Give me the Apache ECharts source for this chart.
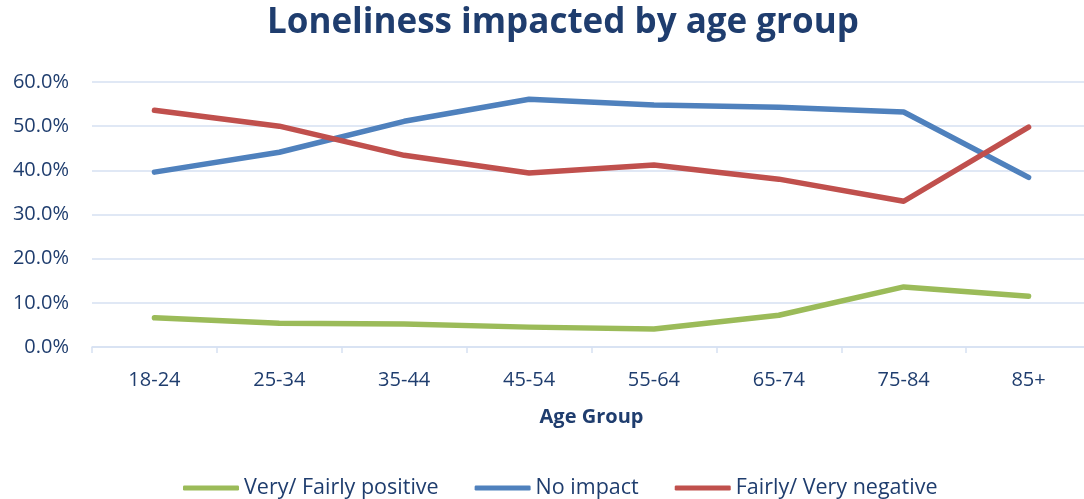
<!DOCTYPE html>
<html>
<head>
<meta charset="utf-8">
<script src="https://cdn.jsdelivr.net/npm/echarts@6/dist/echarts.min.js"></script>
<style>
  html, body { margin: 0; padding: 0; background: #fff; overflow: hidden; }
  /* plot area runs slightly past the right edge of the page */
  #chart { width: 1100px; height: 499px; }
</style>
</head>
<body>
<div id="chart"></div>
<script>
// Age groups along the x axis
const ageGroups = ['18-24', '25-34', '35-44', '45-54', '55-64', '65-74', '75-84', '85+'];

// Share of respondents (%) per impact on loneliness
const veryFairlyPositive = [6.6, 5.4, 5.2, 4.5, 4.1, 7.2, 13.6, 11.5];
const noImpact = [39.6, 44.1, 51.1, 56.1, 54.8, 54.3, 53.2, 38.4];
const fairlyVeryNegative = [53.6, 50.0, 43.4, 39.4, 41.2, 38.0, 33.0, 49.8];

const seriesNames = ['Very/ Fairly positive', 'No impact', 'Fairly/ Very negative'];
const seriesColors = ['#9BBB59', '#4F81BD', '#C0504D'];
const seriesValues = [veryFairlyPositive, noImpact, fairlyVeryNegative];

const textColor = '#1F3D6E';
const gridColor = '#D6E1F2';
const font = '"Open Sans", "Noto Sans", sans-serif';

const chart = echarts.init(document.getElementById('chart'));
chart.setOption({
  animation: false,
  title: {
    text: 'Loneliness impacted by age group',
    left: 262,
    top: 1,
    textStyle: { color: textColor, fontSize: 35, fontWeight: 'bold', fontFamily: font }
  },
  grid: { left: 92, top: 82, width: 999, height: 265, containLabel: false },
  legend: {
    data: seriesNames,
    top: 472,
    left: 178,
    icon: 'roundRect',
    itemWidth: 56,
    itemHeight: 5,
    itemGap: 36,
    textStyle: { color: textColor, fontSize: 21.5, fontFamily: font }
  },
  xAxis: {
    type: 'category',
    data: ageGroups,
    name: 'Age Group',
    nameLocation: 'middle',
    nameGap: 60,
    nameTextStyle: { color: textColor, fontSize: 20, fontWeight: 'bold', fontFamily: font },
    axisLine: { lineStyle: { color: gridColor, width: 1.5 } },
    axisTick: { show: true, length: 6, lineStyle: { color: gridColor, width: 1.5 } },
    axisLabel: { color: textColor, fontSize: 20, margin: 23, fontFamily: font }
  },
  yAxis: {
    type: 'value',
    min: 0,
    max: 60,
    interval: 10,
    axisLine: { show: false },
    axisTick: { show: false },
    splitLine: { lineStyle: { color: gridColor, width: 1.5 } },
    axisLabel: {
      color: textColor, fontSize: 20, margin: 23, fontFamily: font,
      formatter: v => v.toFixed(1) + '%'
    }
  },
  series: seriesNames.map((name, i) => ({
    name,
    type: 'line',
    data: seriesValues[i],
    symbol: 'none',
    smooth: false,
    itemStyle: { color: seriesColors[i] },
    lineStyle: { color: seriesColors[i], width: 5.5, cap: 'round', join: 'round' }
  }))
});
</script>
</body>
</html>
